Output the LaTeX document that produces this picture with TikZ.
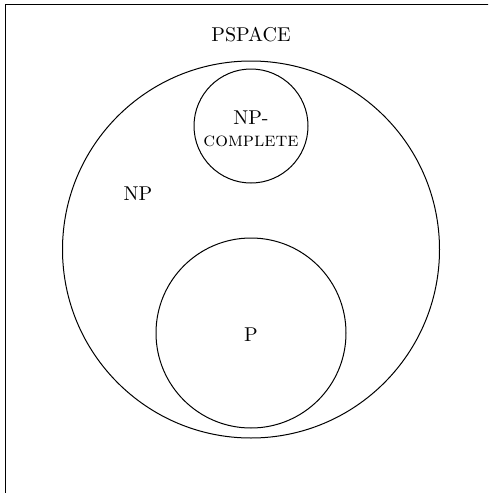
\documentclass[tikz,border=0pt]{standalone}
\begin{document}
\begin{tikzpicture}[x=0.5pt,y=-0.5pt,
  setcircle/.style={circle,draw,line width=0.5pt,inner sep=0pt},
  lbl/.style={font=\normalsize,align=center,inner sep=0pt}]
\useasboundingbox (0,0) rectangle (488,493);
\clip (0,0) rectangle (488,493);
\draw[line width=0.5pt] (5,4) rectangle (700,700);
\node[setcircle,minimum size=188.5pt] (np) at (251,249.5) {};
\node[setcircle,minimum size=57pt] (npc) at (251,126) {};
\node[setcircle,minimum size=95pt] (p) at (251,333) {};
\node[lbl] (pspace) at (251,35) {PSPACE};
\node[lbl] (nplbl) at (138,194) {NP};
\node[lbl] (npclbl) at (251,129) {NP-\\[-1pt]\textsc{complete}};
\node[lbl] (plbl) at (251,335) {P};
\end{tikzpicture}
\end{document}
